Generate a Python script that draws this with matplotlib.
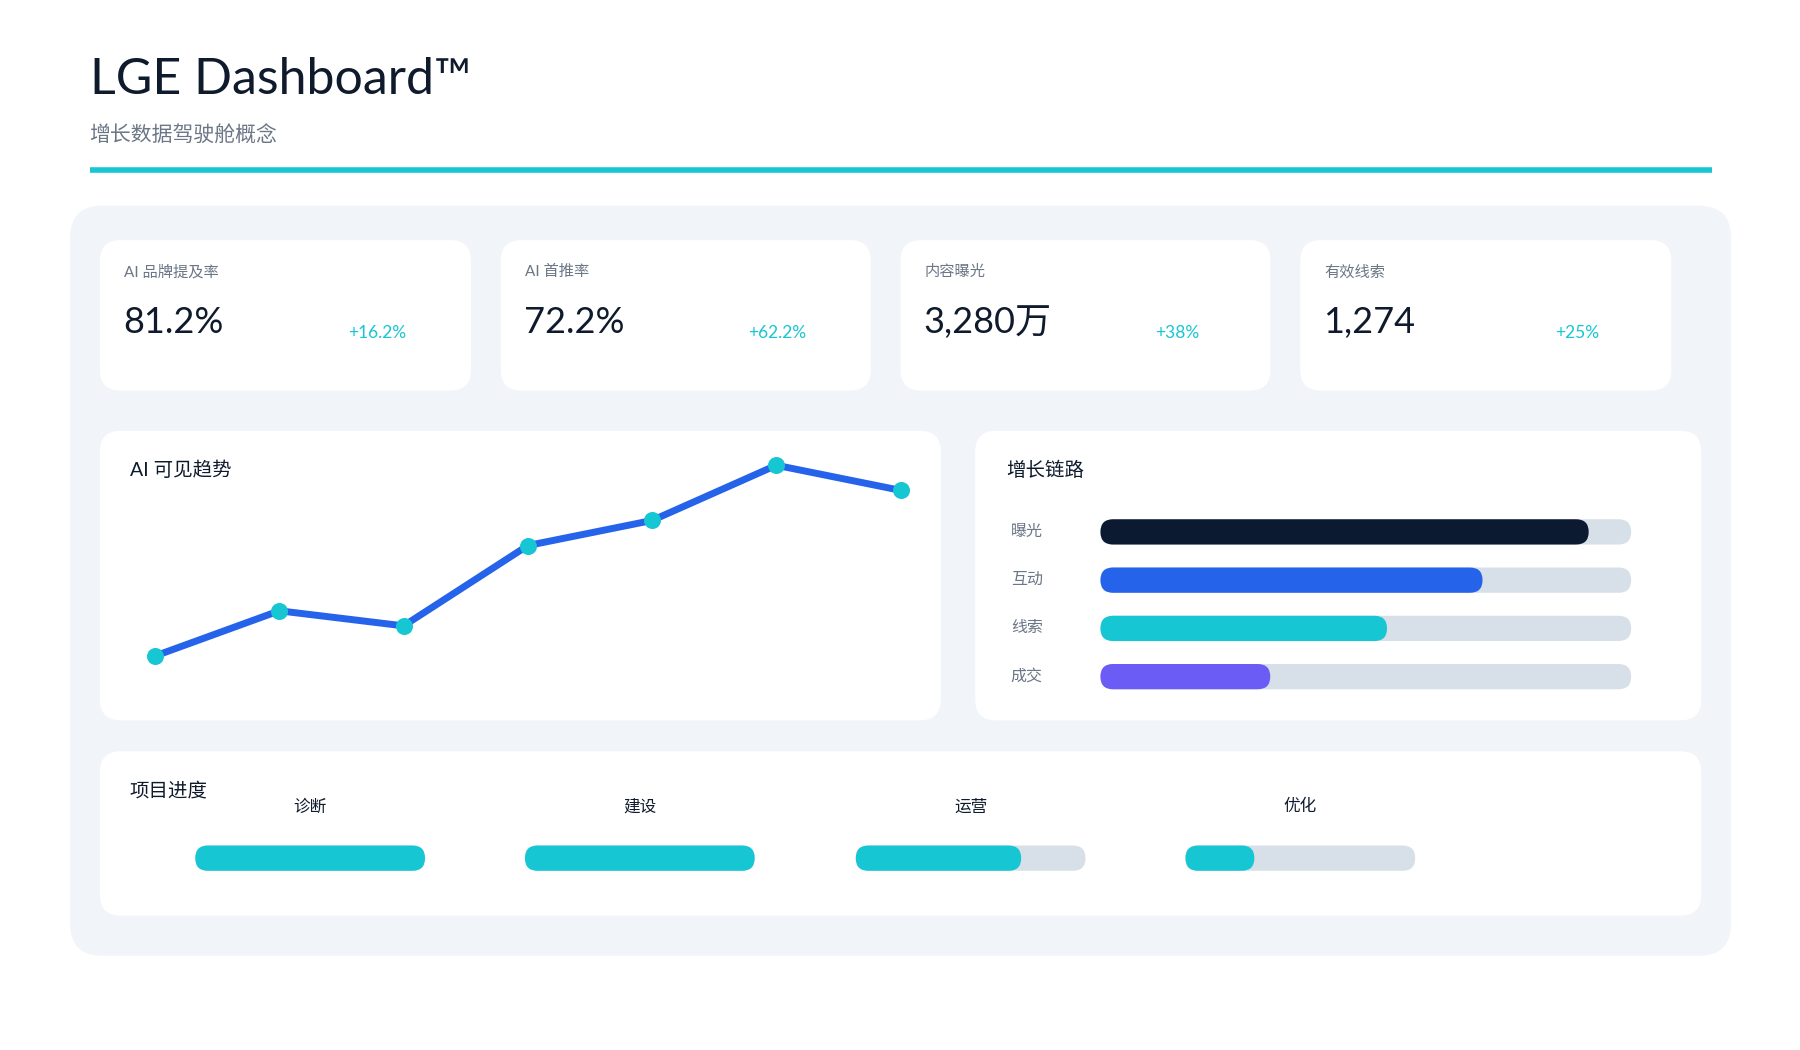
import matplotlib
matplotlib.use("Agg")
import matplotlib.pyplot as plt
from matplotlib.patches import FancyBboxPatch

plt.rcParams['font.family'] = ['Lato', 'Noto Sans CJK SC', 'DejaVu Sans']

title = "LGE Dashboard™"
subtitle = "增长数据驾驶舱概念"
kpi_labels = ["AI 品牌提及率", "AI 首推率", "内容曝光", "有效线索"]
kpi_values = ["81.2%", "72.2%", "3,280万", "1,274"]
kpi_deltas = ["+16.2%", "+62.2%", "+38%", "+25%"]
trend_values = [20, 38, 32, 64, 74, 96, 86]
funnel_labels = ["曝光", "互动", "线索", "成交"]
funnel_values = [0.92, 0.72, 0.54, 0.32]
funnel_colors = ["#0b1a30", "#2563eb", "#17c6d3", "#6c5cf6"]
stage_labels = ["诊断", "建设", "运营", "优化"]
stage_values = [1.0, 1.0, 0.72, 0.30]

W, H = 1567, 914
fig = plt.figure(figsize=(18, 10.5), dpi=100)
ax = fig.add_axes([0, 0, 1, 1])
ax.set_xlim(0, W); ax.set_ylim(H, 0); ax.axis('off')

def rbox(x0, y0, x1, y1, r, color, z=1):
    ax.add_patch(FancyBboxPatch((x0 + r, y0 + r), x1 - x0 - 2 * r, y1 - y0 - 2 * r,
                                boxstyle=f"round,pad={r},rounding_size={r}",
                                fc=color, ec='none', zorder=z))

def pill(x0, x1, yc, h, color, z=3):
    r = h / 2
    w = max(x1 - x0 - 2 * r, 0.01)
    ax.add_patch(FancyBboxPatch((x0 + r, yc - 0.0005), w, 0.001,
                                boxstyle=f"round,pad={r},rounding_size={r}",
                                fc=color, ec='none', zorder=z))

DARK = "#0f1b2d"; GRAY = "#6b7686"; TEAL = "#17c6d3"; TRACK = "#d7e0e8"

ax.text(78, 70, title, fontsize=36, color=DARK, va='center', ha='left')
ax.text(78, 118, subtitle, fontsize=15, color=GRAY, va='center', ha='left')
ax.plot([78, 1490], [148, 148], color=TEAL, lw=4, solid_capstyle='butt')

rbox(61, 179, 1507, 832, 28, "#f1f4f9", 0)

kx = [(87, 410), (436, 758), (784, 1106), (1132, 1455)]
for (x0, x1), lab, val, d in zip(kx, kpi_labels, kpi_values, kpi_deltas):
    rbox(x0, 209, x1, 340, 18, "white", 1)
    ax.text(x0 + 21, 237, lab, fontsize=11, color=GRAY, va='center')
    ax.text(x0 + 20, 281, val, fontsize=26, color=DARK, va='center')
    ax.text(x0 + 241, 290, d, fontsize=12.5, color=TEAL, va='center', ha='center')

rbox(87, 375, 819, 627, 18, "white", 1)
rbox(849, 375, 1481, 627, 18, "white", 1)
rbox(87, 654, 1481, 797, 18, "white", 1)

ax.text(113, 409, "AI 可见趋势", fontsize=14, color=DARK, va='center')
ax.text(876, 409, "增长链路", fontsize=14, color=DARK, va='center')
ax.text(113, 688, "项目进度", fontsize=14, color=DARK, va='center')

# trend line
lax = fig.add_axes([135 / W, 1 - 571 / H, (784 - 135) / W, (571 - 405) / H])
lax.set_xlim(0, len(trend_values) - 1); lax.set_ylim(20, 96); lax.axis('off')
xs = list(range(len(trend_values)))
lax.plot(xs, trend_values, color="#2563eb", lw=5, zorder=2, clip_on=False, solid_joinstyle='round')
lax.scatter(xs, trend_values, s=150, color=TEAL, zorder=3, clip_on=False, linewidths=0)

# funnel bars
bx0, bx1 = 958, 1420
for i, (lab, v, c) in enumerate(zip(funnel_labels, funnel_values, funnel_colors)):
    yc = 463 + 42 * i
    ax.text(880, yc, lab, fontsize=11.5, color=GRAY, va='center')
    pill(bx0, bx1, yc, 22, TRACK, 2)
    pill(bx0, bx0 + v * (bx1 - bx0), yc, 22, c, 3)

# stage progress
starts = [170, 457, 745, 1032]
for s, lab, v in zip(starts, stage_labels, stage_values):
    ax.text(s + 100, 702, lab, fontsize=12, color=DARK, va='center', ha='center')
    pill(s, s + 200, 747, 22, TRACK, 2)
    pill(s, s + v * 200, 747, 22, TEAL, 3)

fig.savefig("out.png", dpi=100, facecolor="white")
